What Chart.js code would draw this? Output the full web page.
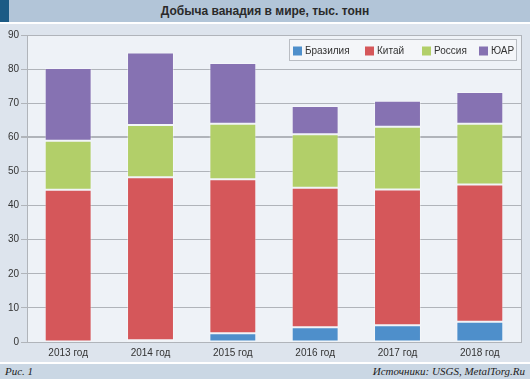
<!DOCTYPE html>
<html><head><meta charset="utf-8">
<script src="https://cdn.jsdelivr.net/npm/chart.js@4"></script>
<style>
html,body{margin:0;padding:0;width:530px;height:379px;overflow:hidden;background:#dde4ed;font-family:"Liberation Sans",Arial,sans-serif;}
#hdr{position:absolute;left:0;top:0;width:530px;height:22px;background:#b2c5d8;}
#hdr .sq{position:absolute;left:0;top:0;width:9px;height:22px;background:#1c5b85;}
#hdr .t{position:absolute;left:0;top:0;width:530px;height:22px;line-height:23px;text-align:center;font-weight:bold;font-size:12px;color:#2a2a2a;}
#sep1{position:absolute;left:0;top:22px;width:530px;height:2px;background:#fff;}
#wrap{position:absolute;left:0;top:24px;width:530px;height:338px;}
#sep2{position:absolute;left:0;top:362px;width:530px;height:2px;background:#fff;}
#ftr{position:absolute;left:0;top:364px;width:530px;height:15px;background:#cad7e4;font-family:"Liberation Serif","DejaVu Serif",serif;font-style:italic;font-size:11px;color:#222;}
#ftr .l{position:absolute;left:5px;top:1px;}
#ftr .r{position:absolute;right:5px;top:1px;}
</style></head><body>
<div id="hdr"><div class="sq"></div><div class="t">Добыча ванадия в мире, тыс. тонн</div></div>
<div id="sep1"></div>
<div id="wrap"><canvas id="c" width="530" height="338"></canvas></div>
<div id="sep2"></div>
<div id="ftr"><span class="l">Рис. 1</span><span class="r">Источники: USGS, MetalTorg.Ru</span></div>
<script>
const categories = ["2013 год","2014 год","2015 год","2016 год","2017 год","2018 год"];
const brazil = [0, 0.5, 2.6, 4.3, 4.9, 5.9];
const china  = [44.6, 47.8, 45.1, 40.9, 39.8, 40.3];
const russia = [14.4, 15.3, 16.3, 15.7, 18.4, 17.8];
const sar    = [21.3, 21.3, 17.8, 8.3, 7.6, 9.3];
const seriesNames = ["Бразилия","Китай","Россия","ЮАР"];
const seriesColors = ["#4e8fcb","#d5575a","#b2cf69","#8672b2"];
const yTicks = [0,10,20,30,40,50,60,70,80,90];

const FONT = "'Liberation Sans', Arial, sans-serif";

const bgPlugin = {
  id:'bg',
  beforeDraw(chart){
    const {ctx, chartArea:a} = chart;
    ctx.save();
    ctx.fillStyle = '#eef2f7';
    ctx.fillRect(a.left, a.top, a.right-a.left, a.bottom-a.top);
    ctx.restore();
  },
  afterDatasetsDraw(chart){
    const {ctx, chartArea:a} = chart;
    ctx.save();
    ctx.strokeStyle = '#b0b4ba';
    ctx.lineWidth = 1;
    ctx.beginPath();
    ctx.moveTo(a.right+0.5, a.top);
    ctx.lineTo(a.right+0.5, a.bottom);
    ctx.stroke();
    // legend
    const bx = 289.5, by = 15.5, bw = 227, bh = 21;
    ctx.fillStyle = '#f4f6f9';
    ctx.fillRect(bx, by, bw, bh);
    ctx.strokeStyle = '#b9bdc3';
    ctx.strokeRect(bx, by, bw, bh);
    ctx.font = '10px ' + FONT;
    ctx.textBaseline = 'middle';
    const xs = [293, 365, 422, 479];
    chart.data.datasets.forEach((ds,i)=>{
      ctx.fillStyle = ds.backgroundColor;
      ctx.fillRect(xs[i], 22.5, 9, 9);
      ctx.fillStyle = '#333';
      ctx.fillText(ds.label, xs[i]+12, 27.5);
    });
    ctx.restore();
  }
};

new Chart(document.getElementById('c'), {
  type:'bar',
  data:{
    labels: categories,
    datasets:[
      {label:seriesNames[0], data:brazil, backgroundColor:seriesColors[0]},
      {label:seriesNames[1], data:china,  backgroundColor:seriesColors[1]},
      {label:seriesNames[2], data:russia, backgroundColor:seriesColors[2]},
      {label:seriesNames[3], data:sar,    backgroundColor:seriesColors[3]}
    ].map(d=>Object.assign(d,{borderColor:'rgba(255,255,255,0.35)',borderWidth:1,borderSkipped:false,categoryPercentage:1,barPercentage:0.57}))
  },
  options:{
    responsive:false,
    animation:false,
    devicePixelRatio:1,
    layout:{padding:{top:11,right:9,left:0,bottom:0}},
    plugins:{legend:{display:false},tooltip:{enabled:false}},
    scales:{
      x:{
        stacked:true,
        grid:{display:false, drawTicks:false},
        border:{display:true,color:'#b0b4ba'},
        ticks:{color:'#333',font:{family:FONT,size:10},padding:5,maxRotation:0},
        afterFit(s){s.height=20;}
      },
      y:{
        stacked:true,
        min:0,max:90,
        afterBuildTicks(s){s.ticks = yTicks.map(v=>({value:v}));},
        grid:{color:'#b0b4ba',lineWidth:c=>c.tick && c.tick.value===60?2:1,tickLength:6},
        border:{display:true,color:'#b0b4ba'},
        ticks:{color:'#333',font:{family:FONT,size:10},padding:2},
        afterFit(s){s.width=27;}
      }
    }
  },
  plugins:[bgPlugin]
});
</script>
</body></html>
